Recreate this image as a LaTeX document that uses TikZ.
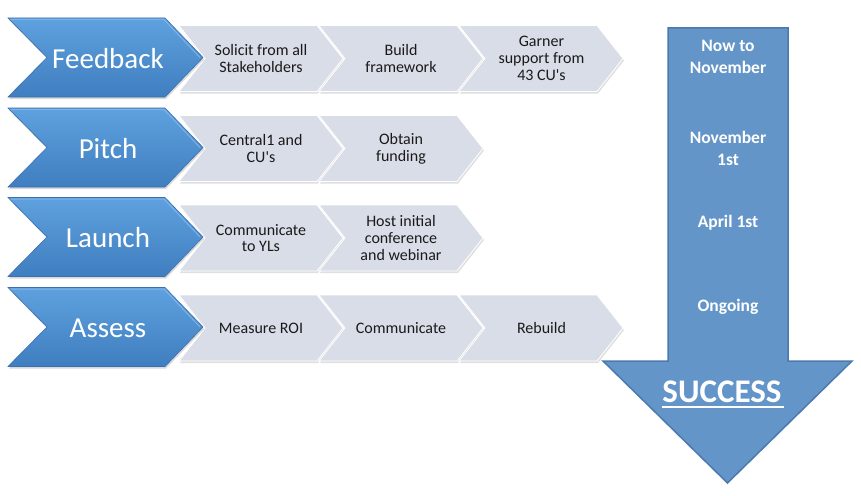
\documentclass[tikz,border=0pt]{standalone}
\usepackage{fontspec}
\setmainfont{Carlito}
\usetikzlibrary{shadows}
\definecolor{grayfill}{HTML}{D9DDE8}
\definecolor{bluetop}{HTML}{5FA1DE}
\definecolor{bluebot}{HTML}{3F7EC0}
\definecolor{blueline}{HTML}{3A70AD}
\definecolor{bluehi}{HTML}{86BBEC}
\definecolor{arrowfill}{HTML}{6395C8}
\definecolor{arrowline}{HTML}{4A7AAE}
\definecolor{txt}{HTML}{1A1A1A}
\tikzset{
  graychev/.style={fill=grayfill, draw=white, line width=0.8pt,
    drop shadow={opacity=0.25, shadow xshift=1pt, shadow yshift=-2pt}},
  bluechev/.style={top color=bluetop, bottom color=bluebot, draw=blueline, line width=0.6pt,
    drop shadow={opacity=0.3, shadow xshift=1pt, shadow yshift=-2pt}},
  bluehilite/.style={draw=bluehi, line width=1pt, line cap=round, opacity=0.8},
  graytext/.style={text=txt, align=center, font=\fontsize{16}{16.7}\selectfont},
  bluetext/.style={text=white, font=\fontsize{29}{33}\selectfont},
  arrowtext/.style={text=white, align=center, font=\bfseries\fontsize{17.5}{22}\selectfont},
  bigarrow/.style={fill=arrowfill, draw=arrowline, line width=1.5pt, line join=miter},
  pics/gchev/.style={code={\path[graychev] (0,-33) -- (138,-33) -- (164,0) -- (138,33) -- (0,33) -- (26,0) -- cycle;}},
  pics/bchev/.style={code={
    \path[bluechev] (0,-39.5) -- (157,-39.5) -- (195,0) -- (157,39.5) -- (0,39.5) -- (39,0) -- cycle;
    \path[bluehilite] (3,-38) -- (156,-38) -- (192,0);}},
}
\begin{document}
\begin{tikzpicture}[x=1pt,y=-1pt]
\useasboundingbox (0,0) rectangle (861,495);
% big arrow
\path[bigarrow] (668,28) -- (788,28) -- (788,361) -- (852,361) -- (727.5,483) -- (603,361) -- (668,361) -- cycle;
% gray chevrons
\pic at (179,58.5) {gchev}; \pic at (319,58.5) {gchev}; \pic at (459,58.5) {gchev};
\pic at (179,148.5) {gchev}; \pic at (319,148.5) {gchev};
\pic at (179,238) {gchev}; \pic at (319,238) {gchev};
\pic at (179,328) {gchev}; \pic at (319,328) {gchev}; \pic at (459,328) {gchev};
% blue chevrons
\pic at (8,57.5) {bchev};
\pic at (8,147.5) {bchev};
\pic at (8,237) {bchev};
\pic at (8,327) {bchev};
% blue labels
\node[bluetext] (b1) at (108,58.5) {Feedback};
\node[bluetext] (b2) at (108,148.5) {Pitch};
\node[bluetext] (b3) at (108,238) {Launch};
\node[bluetext] (b4) at (108,328) {Assess};
% gray labels
\node[graytext] (g11) at (261,58.5) {Solicit from all\\Stakeholders};
\node[graytext] (g12) at (401,58.5) {Build\\framework};
\node[graytext] (g13) at (541.5,58.5) {Garner\\support from\\43 CU\textquotesingle s};
\node[graytext] (g21) at (261,148.5) {Central1 and\\CU\textquotesingle s};
\node[graytext] (g22) at (401,148.5) {Obtain\\funding};
\node[graytext] (g31) at (261,238) {Communicate\\to YLs};
\node[graytext] (g32) at (401,238) {Host initial\\conference\\and webinar};
\node[graytext] (g41) at (261,328) {Measure ROI};
\node[graytext] (g42) at (401,328) {Communicate};
\node[graytext] (g43) at (541.5,328) {Rebuild};
% arrow labels
\node[arrowtext] (t1) at (728,57) {Now to\\November};
\node[arrowtext] (t2) at (728,148) {November\\1st};
\node[arrowtext] (t3) at (728,223) {April 1st};
\node[arrowtext] (t4) at (728,307) {Ongoing};
\node[text=white, inner sep=0pt, anchor=base, font=\bfseries\fontsize{33}{36}\selectfont] (succ) at (722,402) {SUCCESS};
\draw[white, line width=1.2pt] ([yshift=-5pt]succ.base west) -- ([yshift=-5pt,xshift=2pt]succ.base east);
\end{tikzpicture}
\end{document}
